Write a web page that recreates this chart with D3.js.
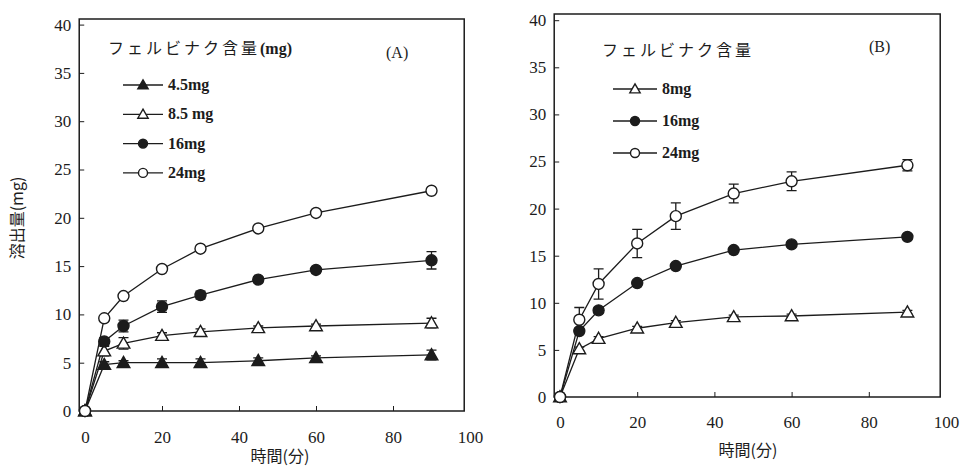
<!DOCTYPE html>
<html>
<head>
<meta charset="utf-8">
<script src="https://cdn.jsdelivr.net/npm/d3@7"></script>
<style>
  body { margin: 0; background: #fff; }
  svg { display: block; }
  text { fill: #1c1c1c; }
</style>
</head>
<body>
<svg id="chart" width="963" height="467"></svg>
<script>
// sampling times (min)
const times = [0, 5, 10, 20, 30, 45, 60, 90];
const xTicks = [0, 20, 40, 60, 80, 100];
const yTicks = [0, 5, 10, 15, 20, 25, 30, 35, 40];

// panel A: dissolved amount (mg) and error bars
const aNames = ["4.5mg", "8.5 mg", "16mg", "24mg"];
const aMarks = ["triFill", "triOpen", "dotFill", "dotOpen"];
const a45 = [0, 4.8, 5.0, 5.0, 5.0, 5.2, 5.5, 5.8];
const a85 = [0, 6.2, 7.0, 7.8, 8.2, 8.6, 8.8, 9.1];
const a16 = [0, 7.2, 8.8, 10.8, 12.0, 13.6, 14.6, 15.6];
const a24 = [0, 9.6, 11.9, 14.7, 16.8, 18.9, 20.5, 22.8];
const a45Err = [0, 0.3, 0.2, 0.4, 0.4, 0.3, 0.2, 0.5];
const a85Err = [0, 0.5, 0.6, 0.3, 0.3, 0.2, 0.2, 0.5];
const a16Err = [0, 0.4, 0.6, 0.6, 0.4, 0.3, 0.3, 0.9];
const a24Err = [0, 0.2, 0.2, 0.2, 0.2, 0.2, 0.2, 0.2];

// panel B
const bNames = ["8mg", "16mg", "24mg"];
const bMarks = ["triOpen", "dotFill", "dotOpen"];
const b8 = [0, 5.1, 6.2, 7.3, 7.9, 8.5, 8.6, 9.0];
const b16 = [0, 7.0, 9.2, 12.1, 13.9, 15.6, 16.2, 17.0];
const b24 = [0, 8.2, 12.0, 16.3, 19.2, 21.6, 22.9, 24.6];
const b8Err = [0, 0.2, 0.2, 0.2, 0.2, 0.2, 0.2, 0.2];
const b16Err = [0, 0.3, 0.3, 0.2, 0.2, 0.2, 0.2, 0.3];
const b24Err = [0, 1.3, 1.6, 1.5, 1.4, 1.0, 1.0, 0.6];

const svg = d3.select("#chart");
const ink = "#1c1c1c";
const serif = "'Liberation Serif', 'DejaVu Serif', serif";
const jp = "'Noto Sans CJK JP', sans-serif";

function drawMarker(g, kind, x, y, r) {
  if (kind.startsWith("tri")) {
    const h = r * 1.15;
    g.append("path")
      .attr("d", `M${x},${y - h}L${x + h},${y + h * 0.75}L${x - h},${y + h * 0.75}Z`)
      .attr("fill", kind === "triFill" ? ink : "#fff")
      .attr("stroke", ink).attr("stroke-width", 1.4);
  } else {
    g.append("circle").attr("cx", x).attr("cy", y).attr("r", r)
      .attr("fill", kind === "dotFill" ? ink : "#fff")
      .attr("stroke", ink).attr("stroke-width", 1.4);
  }
}

function drawPanel(p) {
  const x = d3.scaleLinear().domain([0, 100]).range(p.xRange);
  const y = d3.scaleLinear().domain([0, 40]).range(p.yRange);
  const g = svg.append("g");

  // frame
  g.append("rect")
    .attr("x", x(-1.5)).attr("y", p.top)
    .attr("width", x(98.5) - x(-1.5)).attr("height", y(0) - p.top)
    .attr("fill", "none").attr("stroke", ink).attr("stroke-width", 1.5);

  // y axis, ticks inward
  const yAxis = d3.axisLeft(y).tickValues(yTicks).tickSize(-5).tickPadding(p.yPad);
  const ya = g.append("g").attr("transform", `translate(${x(-1.5)},0)`).call(yAxis);
  ya.select(".domain").remove();
  ya.selectAll(".tick line").attr("stroke", ink);
  ya.selectAll(".tick text").attr("font-family", serif).attr("font-size", 17).attr("fill", ink);

  // x axis, ticks inward
  const xAxis = d3.axisBottom(x).tickValues(xTicks).tickSize(-5).tickPadding(p.xPad);
  const xa = g.append("g").attr("transform", `translate(0,${y(0)})`).call(xAxis);
  xa.select(".domain").remove();
  xa.selectAll(".tick line").attr("stroke", ink).attr("opacity", d => (d > 0 && d < 100) ? 1 : 0);
  xa.selectAll(".tick text").attr("font-family", serif).attr("font-size", 17).attr("fill", ink);

  g.append("text").attr("x", p.xTitle[0]).attr("y", p.xTitle[1])
    .attr("text-anchor", "middle").attr("font-family", jp).attr("font-size", 16)
    .text("時間(分)");

  const line = d3.line().x((d, i) => x(times[i])).y(d => y(d));

  p.series.forEach((s, k) => {
    g.append("path").datum(s.values).attr("d", line)
      .attr("fill", "none").attr("stroke", ink).attr("stroke-width", 1.3);
  });
  p.series.forEach((s, k) => {
    s.values.forEach((v, i) => {
      const e = s.err[i];
      if (e > 0.15) {
        const cx = x(times[i]);
        g.append("path")
          .attr("d", `M${cx},${y(v + e)}V${y(v - e)}M${cx - 5},${y(v + e)}H${cx + 5}M${cx - 5},${y(v - e)}H${cx + 5}`)
          .attr("stroke", ink).attr("stroke-width", 1.3).attr("fill", "none");
      }
    });
    s.values.forEach((v, i) => drawMarker(g, s.mark, x(times[i]), y(v), 5.5));
  });

  // legend
  g.append("text").attr("x", p.legX).attr("y", p.legTitleY)
    .attr("font-family", jp).attr("font-size", 16).attr("letter-spacing", 3)
    .text(p.legTitle)
    .append("tspan").attr("font-family", serif).attr("font-weight", "bold")
    .attr("letter-spacing", 0).attr("font-size", 16).text(p.legUnit);

  p.series.forEach((s, k) => {
    const ly = p.legY0 + k * p.legStep;
    g.append("line").attr("x1", p.legLine[0]).attr("x2", p.legLine[1])
      .attr("y1", ly).attr("y2", ly).attr("stroke", ink).attr("stroke-width", 1.3);
    drawMarker(g, s.mark, (p.legLine[0] + p.legLine[1]) / 2, ly, 4.5);
    g.append("text").attr("x", p.legLine[1] + 5).attr("y", ly + 5)
      .attr("font-family", serif).attr("font-weight", "bold").attr("font-size", 16)
      .text(s.name);
  });

  g.append("text").attr("x", p.tag[0]).attr("y", p.tag[1])
    .attr("font-family", serif).attr("font-size", 16).text(p.tagText);
  return g;
}

drawPanel({
  xRange: [85, 470], yRange: [411, 24.6], top: 19,
  yPad: 8, xPad: 20, xTitle: [280, 462],
  legX: 108, legTitleY: 54, legTitle: "フェルビナク含量", legUnit: "(mg)",
  legLine: [123, 163], legY0: 85, legStep: 29.3,
  tag: [386, 58], tagText: "(A)",
  series: [
    { name: aNames[0], mark: aMarks[0], values: a45, err: a45Err },
    { name: aNames[1], mark: aMarks[1], values: a85, err: a85Err },
    { name: aNames[2], mark: aMarks[2], values: a16, err: a16Err },
    { name: aNames[3], mark: aMarks[3], values: a24, err: a24Err }
  ]
});

drawPanel({
  xRange: [560, 946], yRange: [397, 20.2], top: 14,
  yPad: 8, xPad: 19, xTitle: [748, 456],
  legX: 602, legTitleY: 56, legTitle: "フェルビナク含量", legUnit: "",
  legLine: [613, 657], legY0: 89, legStep: 32,
  tag: [869, 52], tagText: "(B)",
  series: [
    { name: bNames[0], mark: bMarks[0], values: b8, err: b8Err },
    { name: bNames[1], mark: bMarks[1], values: b16, err: b16Err },
    { name: bNames[2], mark: bMarks[2], values: b24, err: b24Err }
  ]
});

// shared y-axis title on the left
svg.append("text")
  .attr("transform", "translate(23,218) rotate(-90)")
  .attr("text-anchor", "middle").attr("font-family", jp).attr("font-size", 16)
  .text("溶出量(mg)");
</script>
</body>
</html>
